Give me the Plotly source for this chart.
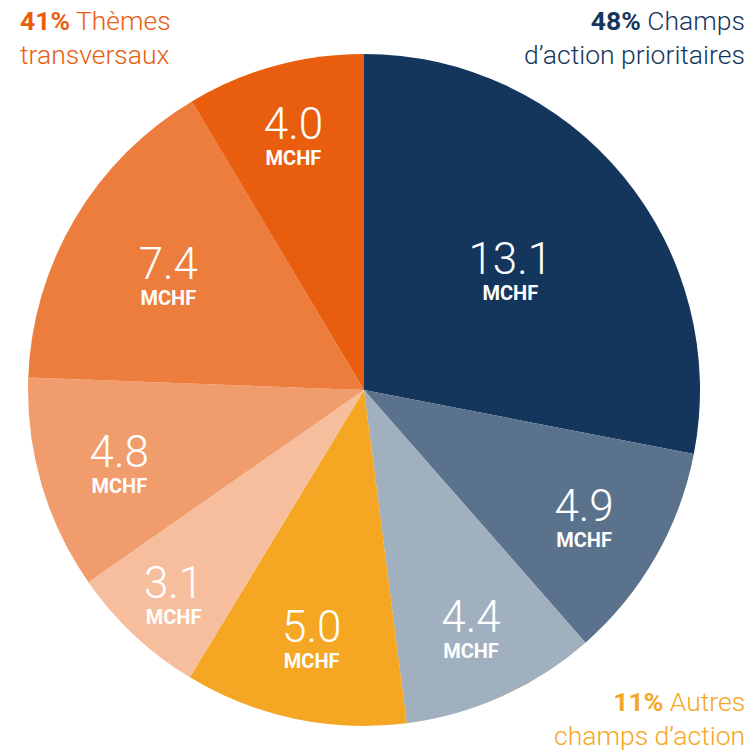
import plotly.graph_objects as go

values = [13.1, 4.9, 4.4, 5.0, 3.1, 4.8, 7.4, 4.0]
value_labels = ["13.1", "4.9", "4.4", "5.0", "3.1", "4.8", "7.4", "4.0"]
colors = ["#15365C", "#5B728C", "#A1B0BF", "#F5A623", "#F7BE9E", "#F19C6C", "#ED7D3C", "#E95D0F"]
unit = "MCHF"

texts = [f"<span style='font-size:44px;font-weight:300'>{v}</span><br><b>{unit}</b>" for v in value_labels]

fig = go.Figure(go.Pie(
    values=values,
    text=texts,
    textinfo="text",
    textposition="inside",
    insidetextorientation="horizontal",
    sort=False,
    direction="clockwise",
    rotation=0,
    marker=dict(colors=colors, line=dict(width=0)),
    textfont=dict(family="Roboto", size=20, color="white"),
    hoverinfo="skip",
    domain=dict(x=[28/749, 700/749], y=[1-726/751, 1-54/751]),
    showlegend=False,
))

hdr = dict(family="Roboto", size=26.5, weight=300)
fig.add_annotation(x=18/749, y=1-3/751, xref="paper", yref="paper", xanchor="left", yanchor="top",
                   align="left", showarrow=False,
                   text="<b>41%</b> Thèmes<br>transversaux",
                   font=dict(**hdr, color="#E95D0F"))
fig.add_annotation(x=747/749, y=1-3/751, xref="paper", yref="paper", xanchor="right", yanchor="top",
                   align="right", showarrow=False,
                   text="<b>48%</b> Champs<br>d’action prioritaires",
                   font=dict(**hdr, color="#15365C"))
fig.add_annotation(x=747/749, y=1-684/751, xref="paper", yref="paper", xanchor="right", yanchor="top",
                   align="right", showarrow=False,
                   text="<b>11%</b> Autres<br>champs d’action",
                   font=dict(**hdr, color="#F5A623"))

fig.update_layout(width=749, height=751, margin=dict(l=0, r=0, t=0, b=0),
                  paper_bgcolor="white", plot_bgcolor="white")
fig.write_html("out.html", config={"displayModeBar": False},
               post_script="document.body.style.margin='0';document.body.style.overflow='hidden';")
